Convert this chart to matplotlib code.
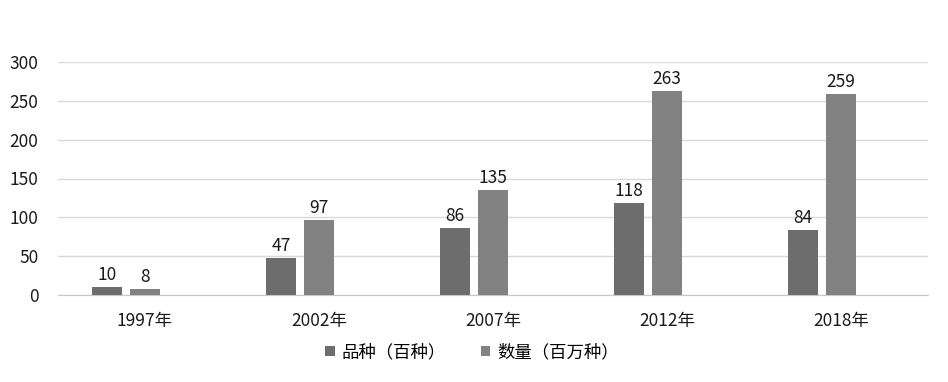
import matplotlib.pyplot as plt
import numpy as np

plt.rcParams['font.family'] = ['Noto Sans CJK SC', 'DejaVu Sans']

years = ["1997年", "2002年", "2007年", "2012年", "2018年"]
varieties = [10, 47, 86, 118, 84]      # 品种（百种）
quantity = [8, 97, 135, 263, 259]      # 数量（百万种）

C_VAR = "#6d6d6d"
C_QTY = "#828282"

fig = plt.figure(figsize=(9.48, 3.82), dpi=100)
ax = fig.add_axes([58 / 948, 1 - 295 / 382, 870 / 948, 233 / 382])

x = np.arange(len(years)) + 0.5
w = 30 / 174
off = 38 / 174

b1 = ax.bar(x - off, varieties, width=w, color=C_VAR, label="品种（百种）", zorder=3)
b2 = ax.bar(x, quantity, width=w, color=C_QTY, label="数量（百万种）", zorder=3)

for bars in (b1, b2):
    for r in bars:
        ax.text(r.get_x() + r.get_width() / 2, r.get_height() + 4, f"{int(r.get_height())}",
                ha="center", va="bottom", fontsize=12.5, color="#1a1a1a")

ax.set_xlim(0, len(years))
ax.set_ylim(0, 300)
ax.set_yticks(range(0, 301, 50))
ax.set_xticks(x)
ax.set_xticklabels(years)
ax.tick_params(axis="both", length=0, labelsize=12.5, colors="#1a1a1a")
ax.tick_params(axis="x", pad=12)
ax.tick_params(axis="y", pad=14)
ax.grid(axis="y", color="#d9d9d9", linewidth=1, zorder=0)
for s in ["top", "right", "left"]:
    ax.spines[s].set_visible(False)
ax.spines["bottom"].set_color("#c8c8c8")

ax.legend(loc="center", bbox_to_anchor=(472 / 948, 1 - 352 / 382), bbox_transform=fig.transFigure,
          ncol=2, frameon=False, fontsize=12.5, handlelength=0.55, handleheight=0.55,
          handletextpad=0.4, columnspacing=2.0)

fig.savefig("out.png", dpi=100)
